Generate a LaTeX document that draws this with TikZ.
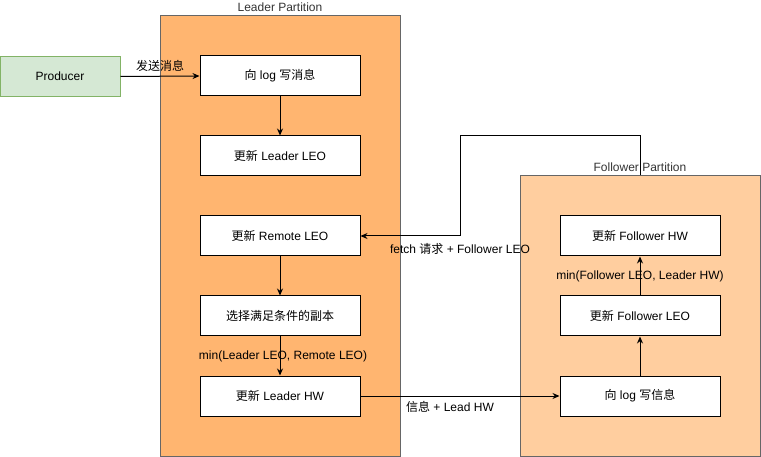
\documentclass[tikz,border=0pt]{standalone}
\usepackage{fontspec}
\setmainfont{Liberation Sans}
\newfontfamily\cjkfont{Noto Sans CJK SC}
\newcommand\zh[1]{{\cjkfont #1}}
\usetikzlibrary{arrows.meta}
\definecolor{leaderfill}{HTML}{FFB570}
\definecolor{followerfill}{HTML}{FFCE9F}
\definecolor{partborder}{HTML}{666666}
\definecolor{prodfill}{HTML}{D5E8D4}
\definecolor{prodborder}{HTML}{82B366}
\definecolor{labelgrey}{HTML}{333333}
\begin{document}
\begin{tikzpicture}[x=1pt,y=-1pt,
  every node/.style={font=\fontsize{12}{14}\selectfont},
  part/.style={draw=partborder,line width=1pt,inner sep=0pt,minimum width=240pt},
  stepbox/.style={draw=black,fill=white,line width=1pt,minimum width=160pt,minimum height=40pt,inner sep=0pt},
  prodbox/.style={draw=prodborder,fill=prodfill,line width=1pt,minimum width=120pt,minimum height=40pt,inner sep=0pt},
  arr/.style={draw=black,line width=1pt,-{Stealth[length=7pt,width=6pt]}},
  lbl/.style={inner sep=0pt,text=black},
  plabel/.style={inner sep=0pt,text=labelgrey}
]
\useasboundingbox (0,0) rectangle (761,457);
% partitions
\node[part,fill=leaderfill,minimum height=440pt] (lp) at (280,236) {};
\node[part,fill=followerfill,minimum height=280pt] (fp) at (640,316) {};
\node[plabel] (lpl) at (280,7) {Leader Partition};
\node[plabel] (fpl) at (640,167) {Follower Partition};
% producer
\node[prodbox] (prod) at (60,76.5) {Producer};
% leader boxes
\node[stepbox] (w) at (280,76) {\zh{向} log \zh{写消息}};
\node[stepbox] (ll) at (280,156) {\zh{更新} Leader LEO};
\node[stepbox] (rl) at (280,236) {\zh{更新} Remote LEO};
\node[stepbox] (sel) at (280,316) {\zh{选择满足条件的副本}};
\node[stepbox] (lhw) at (280,396) {\zh{更新} Leader HW};
% follower boxes
\node[stepbox] (fhw) at (640,236) {\zh{更新} Follower HW};
\node[stepbox] (fleo) at (640,316) {\zh{更新} Follower LEO};
\node[stepbox] (fw) at (640,396) {\zh{向} log \zh{写信息}};
% connectors
\draw[arr] (prod.east) -- (w.west);
\node[lbl] (l1) at (160,66) {\zh{发送消息}};
\draw[arr] (w.south) -- (ll.north);
\draw[arr] (rl.south) -- (sel.north);
\draw[arr] (sel.south) -- (lhw.north);
\node[lbl] (l2) at (283,356) {min(Leader LEO, Remote LEO)};
\draw[arr] (lhw.east) -- (fw.west);
\node[lbl] (l3) at (450,407) {\zh{信息} + Lead HW};
\draw[arr] (fw.north) -- (fleo.south);
\draw[arr] (fleo.north) -- (fhw.south);
\node[lbl] (l4) at (640,276) {min(Follower LEO, Leader HW)};
\coordinate (b1) at (640,136);
\coordinate (b2) at (460,136);
\coordinate (b3) at (460,236);
\draw[arr] (fp.north) -- (b1) -- (b2) -- (b3) -- (rl.east);
\node[lbl] (l5) at (460,249) {fetch \zh{请求} + Follower LEO};
\end{tikzpicture}
\end{document}
